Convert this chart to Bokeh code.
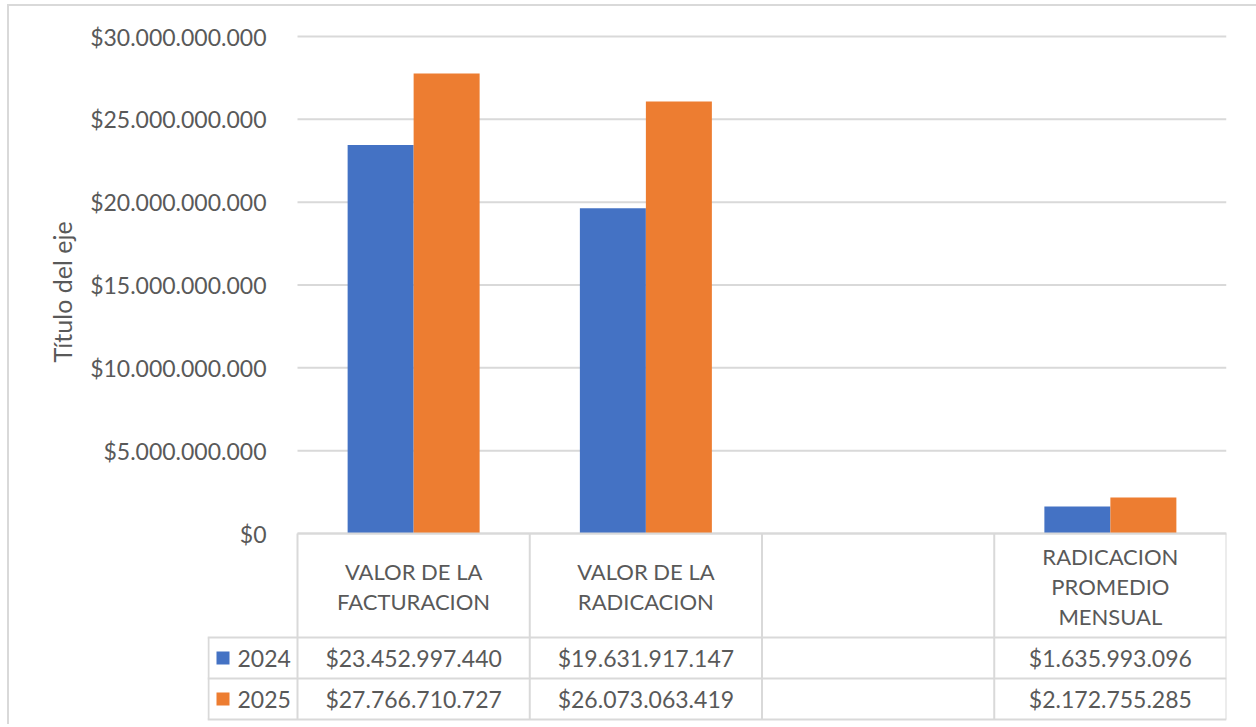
import math
from bokeh.plotting import figure
from bokeh.models import (Range1d, FixedTicker, CustomJSTickFormatter, ColumnDataSource, Title)
from bokeh.core.properties import value
from bokeh.embed import file_html
from bokeh.resources import INLINE

# ---------------- data ----------------
categories = ["VALOR DE LA\nFACTURACION", "VALOR DE LA\nRADICACION", "", "RADICACION\nPROMEDIO\nMENSUAL"]
series_names = ["2024", "2025"]
values_2024 = [23452997440, 19631917147, None, 1635993096]
values_2025 = [27766710727, 26073063419, None, 2172755285]
y_ticks = [0, 5000000000, 10000000000, 15000000000, 20000000000, 25000000000, 30000000000]
axis_title = "Título del eje"

series_values = [values_2024, values_2025]
colors = ["#4472C4", "#ED7D31"]
TEXT_COLOR = "#595959"
LINE_COLOR = "#d9d9d9"
FONT = "Lato"

# ---------------- layout (canvas px) ----------------
W, H = 1256, 724
PLOT_L, PLOT_R = 297, 1226      # category area
TABLE_L = 207                   # legend column left edge (= frame left)
FRAME_T, FRAME_B = 26, 722
ZERO_Y, TOP_Y = 533, 36         # canvas y of 0 and of top tick
ncat = len(categories)
PX_PER_CAT = (PLOT_R - PLOT_L) / ncat
Y_PER_PX = y_ticks[-1] / (ZERO_Y - TOP_Y)


def dx(px):
    return (px - PLOT_L) / PX_PER_CAT


def dy(py):
    return (ZERO_Y - py) * Y_PER_PX


def money(v):
    return "$" + f"{int(round(v)):,}".replace(",", ".")


p = figure(width=W, height=H, output_backend="svg", toolbar_location=None,
           x_range=Range1d(dx(TABLE_L), ncat), y_range=Range1d(dy(FRAME_B), dy(FRAME_T)),
           x_axis_location=None, min_border_left=TABLE_L, min_border_right=W - PLOT_R,
           min_border_top=FRAME_T, min_border_bottom=H - FRAME_B, tools="")
p.outline_line_color = None
p.background_fill_color = "white"
p.border_fill_color = None
p.xgrid.grid_line_color = None
p.ygrid.grid_line_color = None
# chart-area border (left and top edges visible in the reference)
p.styles = {
    "background-color": "white",
    "background-image": "linear-gradient(#d9d9d9, #d9d9d9), linear-gradient(#d9d9d9, #d9d9d9)",
    "background-size": "2px 100%, 100% 2px",
    "background-position": "7px 4px, 7px 4px",
    "background-repeat": "no-repeat",
}

# y axis (labels pulled into place right of the legend column)
yax = p.yaxis[0]
yax.ticker = FixedTicker(ticks=y_ticks)
yax.formatter = CustomJSTickFormatter(code=r"""
return '$' + Math.round(tick).toString().replace(/\B(?=(\d{3})+(?!\d))/g, '.');
""")
yax.axis_line_color = None
yax.major_tick_line_color = None
yax.minor_tick_line_color = None
yax.major_tick_out = 0
yax.major_tick_in = 0
yax.major_label_standoff = -(266 - TABLE_L)
yax.major_label_text_font = FONT
yax.major_label_text_font_size = "23px"
yax.major_label_text_color = TEXT_COLOR

# axis title (bottom end of the rotated text at y = 362)
p.add_layout(Title(text=axis_title, align="left", offset=FRAME_B - 362, standoff=22,
                   text_font=FONT, text_font_size="25px", text_font_style="normal",
                   text_color=TEXT_COLOR), "left")

# gridlines across the category area only
p.segment(x0=[0] * len(y_ticks), x1=[ncat] * len(y_ticks), y0=y_ticks, y1=y_ticks,
          line_color=LINE_COLOR, line_width=2)

# bars
bar_w = 66 / PX_PER_CAT
for s, (vals, col) in enumerate(zip(series_values, colors)):
    xs, tops = [], []
    for i, v in enumerate(vals):
        if v is not None:
            xs.append(i + 0.5 + (s - 0.5) * bar_w)
            tops.append(v)
    p.vbar(x=xs, top=tops, bottom=0, width=bar_w, fill_color=col, line_color=None)

# ---------------- data table ----------------
row_top = [637, 678]
row_bot = [678, 719]
col_edges = [PLOT_L + PX_PER_CAT * k for k in range(ncat + 1)]

seg = dict(x0=[], y0=[], x1=[], y1=[])


def add_seg(a, b, c, d):
    seg["x0"].append(dx(a)); seg["y0"].append(dy(b))
    seg["x1"].append(dx(c)); seg["y1"].append(dy(d))


add_seg(col_edges[0], ZERO_Y, col_edges[-1], ZERO_Y)
for yy in [row_top[0], row_top[1], row_bot[1]]:
    add_seg(TABLE_L, yy, col_edges[-1], yy)
for xx in col_edges:
    add_seg(xx, ZERO_Y, xx, row_bot[1])
add_seg(TABLE_L + 1, row_top[0], TABLE_L + 1, row_bot[1])
p.segment(x0="x0", y0="y0", x1="x1", y1="y1", source=ColumnDataSource(seg),
          line_color=LINE_COLOR, line_width=2)

# header texts
hx, hy, ht = [], [], []
for i, name in enumerate(categories):
    lines = name.split("\n") if name else []
    n = len(lines)
    for j, ln in enumerate(lines):
        hx.append(i + 0.5)
        hy.append(dy(586 + (j - (n - 1) / 2) * 30))
        ht.append(ln)
p.text(x="x", y="y", text="t", source=ColumnDataSource(dict(x=hx, y=hy, t=ht)),
       text_align="center", text_baseline="middle", text_font=value(FONT),
       text_font_size=value("22px"), text_color=TEXT_COLOR)

# value cells
vx, vy, vt = [], [], []
for s, vals in enumerate(series_values):
    yc = dy((row_top[s] + row_bot[s]) / 2)
    for i, v in enumerate(vals):
        if v is not None:
            vx.append(i + 0.5); vy.append(yc); vt.append(money(v))
p.text(x="x", y="y", text="t", source=ColumnDataSource(dict(x=vx, y=vy, t=vt)),
       text_align="center", text_baseline="middle", text_font=value(FONT),
       text_font_size=value("23px"), text_color=TEXT_COLOR)

# legend keys
kx, ky, kc, lx, ly, lt = [], [], [], [], [], []
for s, (name, col) in enumerate(zip(series_names, colors)):
    yc = (row_top[s] + row_bot[s]) / 2
    kx.append(dx(222.5)); ky.append(dy(yc)); kc.append(col)
    lx.append(dx(237)); ly.append(dy(yc)); lt.append(name)
p.rect(x="x", y="y", width=13 / PX_PER_CAT, height=13 * Y_PER_PX, fill_color="c", line_color=None,
       source=ColumnDataSource(dict(x=kx, y=ky, c=kc)))
p.text(x="x", y="y", text="t", source=ColumnDataSource(dict(x=lx, y=ly, t=lt)),
       text_align="left", text_baseline="middle", text_font=value(FONT),
       text_font_size=value("23px"), text_color=TEXT_COLOR)

open("out.html", "w").write(file_html(p, INLINE))
